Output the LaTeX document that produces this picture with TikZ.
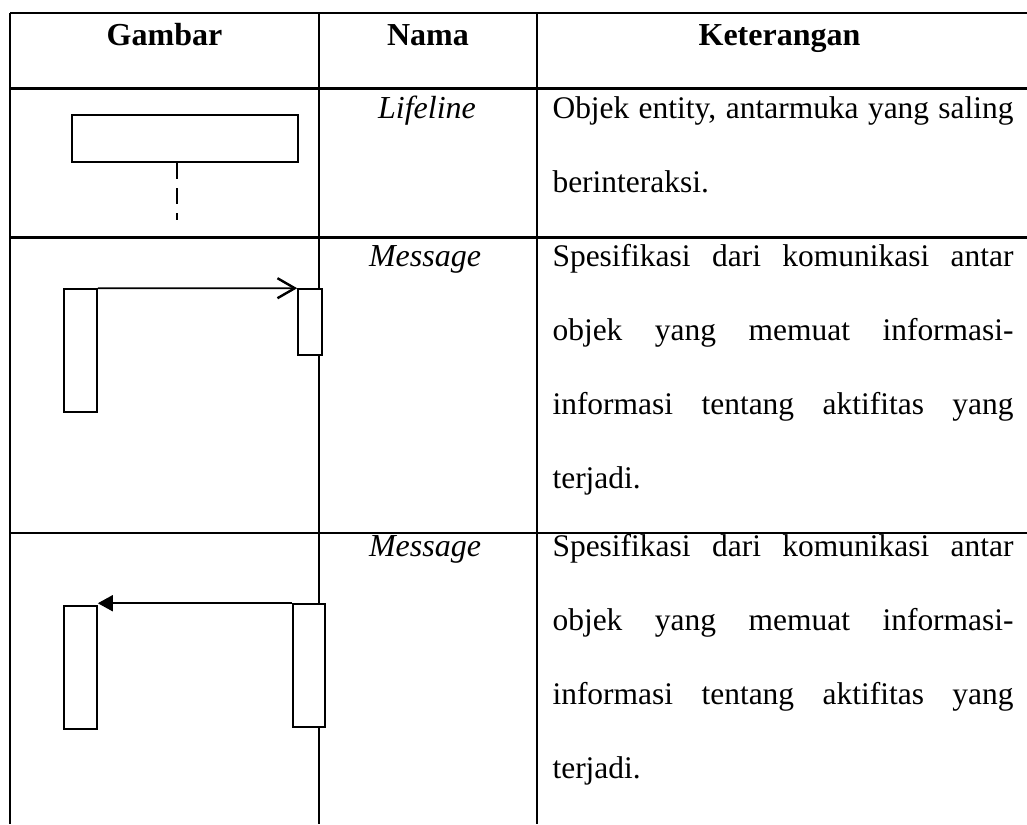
\documentclass[tikz,border=0pt]{standalone}
\usepackage{fontspec}
\setmainfont{Liberation Serif}
\usetikzlibrary{positioning}
\usetikzlibrary{arrows.meta}

\begin{document}
\begin{tikzpicture}[x=0.375pt,y=-0.375pt,every node/.style={inner sep=0pt}]

	\tikzstyle{grid line}=[line width=0.8pt]
	\tikzstyle{box}=[rectangle,draw=black,line width=0.6pt,fill=white]
	\tikzstyle{headcell}=[font=\fontsize{12pt}{14pt}\selectfont\bfseries,anchor=base]
	\tikzstyle{namecell}=[font=\fontsize{12pt}{14pt}\selectfont\itshape,anchor=base]
	\tikzstyle{infocell}=[font=\fontsize{11.8pt}{27.75pt}\selectfont,anchor=base west,text width=172.9pt,align=justify]

	\useasboundingbox (0,0) rectangle (1027,824);

	\foreach \y in {13,88.5,237.5,533}
		\draw[grid line] (10,\y) -- (1027,\y);
	\foreach \x in {10,319,537}
		\draw[grid line] (\x,13) -- (\x,824);

	\node[headcell] (hgambar) at (164.5,45) {Gambar};
	\node[headcell] (hnama) at (428,45) {Nama};
	\node[headcell] (hket) at (779.5,45) {Keterangan};

	\node[box,minimum width=84.75pt,minimum height=17.6pt] (obj) at (185,138.5) {};
	\coordinate (objend) at (177,220);
	\draw[line width=0.6pt,dash pattern=on 6pt off 3.5pt] (obj.south -| objend) -- (objend);
	\node[namecell] (nlife) at (427,118) {Lifeline};
	\node[infocell] (klife) at (552,118) {Objek entity, antarmuka yang saling\linebreak berinteraksi.};

	\node[box,minimum width=12.4pt,minimum height=46.1pt] (send1) at (80.5,350.5) {};
	\node[box,minimum width=9pt,minimum height=24.75pt] (recv1) at (310,322) {};
	\draw[line width=0.6pt,-{Straight Barb[length=6.5pt,width=7.5pt,line width=0.9pt]}] (send1.north east) -- (recv1.north west);
	\node[namecell] (nmsg1) at (425,266.7) {Message};
	\node[infocell] (kmsg1) at (552,266.7) {Spesifikasi dari komunikasi antar\linebreak objek yang memuat informasi-\linebreak informasi tentang aktifitas yang\linebreak terjadi.};

	\node[box,minimum width=12.4pt,minimum height=46.1pt] (recv2) at (80.5,667.5) {};
	\node[box,minimum width=12pt,minimum height=46.1pt] (send2) at (309,665.5) {};
	\draw[line width=0.6pt,-{Triangle[length=5.6pt,width=6pt]}] (send2.north west) -- (send2.north west -| recv2.east);
	\node[namecell] (nmsg2) at (425,556.7) {Message};
	\node[infocell] (kmsg2) at (552,556.7) {Spesifikasi dari komunikasi antar\linebreak objek yang memuat informasi-\linebreak informasi tentang aktifitas yang\linebreak terjadi.};

\end{tikzpicture}
\end{document}
